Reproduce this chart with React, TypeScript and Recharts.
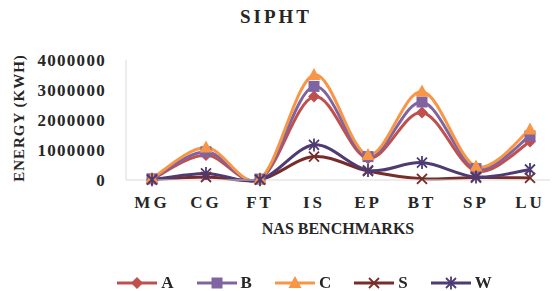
import React from 'react';
import { LineChart, Line, XAxis, YAxis, Legend } from 'recharts';

const benchmarks = ['MG', 'CG', 'FT', 'IS', 'EP', 'BT', 'SP', 'LU'];
const seriesA = [20000, 830000, 20000, 2780000, 720000, 2250000, 300000, 1280000];
const seriesB = [40000, 940000, 30000, 3120000, 780000, 2600000, 380000, 1470000];
const seriesC = [50000, 1080000, 40000, 3500000, 830000, 2950000, 450000, 1680000];
const seriesS = [10000, 100000, 10000, 780000, 300000, 40000, 80000, 70000];
const seriesW = [10000, 220000, 10000, 1170000, 320000, 580000, 100000, 350000];
const yTicks = [0, 1000000, 2000000, 3000000, 4000000];

const data = benchmarks.map((name, i) => ({
  name,
  A: seriesA[i],
  B: seriesB[i],
  C: seriesC[i],
  S: seriesS[i],
  W: seriesW[i],
}));

const font = '"Liberation Serif", "DejaVu Serif", serif';

const series = [
  { key: 'A', color: '#C0504D', shape: 'diamond' },
  { key: 'B', color: '#8064A2', shape: 'square' },
  { key: 'C', color: '#F79646', shape: 'triangle' },
  { key: 'S', color: '#772C2A', shape: 'x' },
  { key: 'W', color: '#4F3B73', shape: 'star' },
];

// Excel-style smoothed line (Catmull-Rom through the points)
const excelCurve = (context: any) => {
  let pts: number[][] = [];
  return {
    areaStart() {},
    areaEnd() {},
    lineStart() {
      pts = [];
    },
    point(x: number, y: number) {
      pts.push([+x, +y]);
    },
    lineEnd() {
      if (!pts.length) return;
      context.moveTo(pts[0][0], pts[0][1]);
      for (let i = 0; i < pts.length - 1; i++) {
        const p0 = pts[i - 1] || pts[i];
        const p1 = pts[i];
        const p2 = pts[i + 1];
        const p3 = pts[i + 2] || p2;
        context.bezierCurveTo(
          p1[0] + (p2[0] - p0[0]) / 6,
          p1[1] + (p2[1] - p0[1]) / 6,
          p2[0] - (p3[0] - p1[0]) / 6,
          p2[1] - (p3[1] - p1[1]) / 6,
          p2[0],
          p2[1]
        );
      }
    },
  };
};

const Marker = ({ cx, cy, shape, color }: { cx: number; cy: number; shape: string; color: string }) => {
  if (cx == null || cy == null) return null;
  switch (shape) {
    case 'diamond':
      return <path d={`M${cx},${cy - 6}L${cx + 6},${cy}L${cx},${cy + 6}L${cx - 6},${cy}Z`} fill={color} />;
    case 'square':
      return <rect x={cx - 5.5} y={cy - 5.5} width={11} height={11} fill={color} />;
    case 'triangle':
      return <path d={`M${cx},${cy - 7}L${cx + 6.5},${cy + 5}L${cx - 6.5},${cy + 5}Z`} fill={color} />;
    case 'x':
      return (
        <path
          d={`M${cx - 5},${cy - 5}L${cx + 5},${cy + 5}M${cx + 5},${cy - 5}L${cx - 5},${cy + 5}`}
          stroke={color}
          strokeWidth={1.8}
        />
      );
    default:
      return (
        <path
          d={`M${cx - 5},${cy - 5}L${cx + 5},${cy + 5}M${cx + 5},${cy - 5}L${cx - 5},${cy + 5}M${cx},${cy - 6.5}L${cx},${cy + 6.5}`}
          stroke={color}
          strokeWidth={1.8}
        />
      );
  }
};

const LegendContent = () => (
  <div style={{ height: 24, display: 'flex', justifyContent: 'center', alignItems: 'center', paddingLeft: 80 }}>
    {series.map((s) => (
      <div key={s.key} style={{ display: 'flex', alignItems: 'center', marginRight: 22 }}>
        <svg width={42} height={16}>
          <line x1={1} y1={8} x2={41} y2={8} stroke={s.color} strokeWidth={3} />
          <Marker cx={21} cy={8} shape={s.shape} color={s.color} />
        </svg>
        <span style={{ fontFamily: font, fontWeight: 'bold', fontSize: 17, color: '#262626', marginLeft: 3 }}>
          {s.key}
        </span>
      </div>
    ))}
  </div>
);

export default function App() {
  return (
    <div style={{ position: 'fixed', left: 0, top: 0, width: 552, height: 291, background: '#fff' }}>
      <div
        style={{
          position: 'absolute',
          top: 6,
          width: 552,
          textAlign: 'center',
          fontFamily: font,
          fontWeight: 'bold',
          fontSize: 19,
          letterSpacing: 3,
          color: '#262626',
        }}
      >
        SIPHT
      </div>
      <LineChart width={552} height={291} data={data} margin={{ top: 60, right: 2, left: 0, bottom: -4 }}>
        <XAxis
          dataKey="name"
          padding={{ left: 26, right: 20 }}
          height={91}
          tickLine={false}
          axisLine={{ stroke: '#D9D9D9' }}
          tickMargin={10}
          tick={{ fontFamily: font, fontWeight: 'bold', fontSize: 17, fill: '#262626', letterSpacing: 3 }}
          label={{
            value: 'NAS BENCHMARKS',
            position: 'insideTop',
            offset: 43,
            style: { fontFamily: font, fontWeight: 'bold', fontSize: 16, fill: '#262626' },
          }}
        />
        <YAxis
          width={126}
          domain={[0, 4000000]}
          ticks={yTicks}
          interval={0}
          tickLine={false}
          axisLine={{ stroke: '#D9D9D9' }}
          tickMargin={14}
          tick={{ fontFamily: font, fontWeight: 'bold', fontSize: 17, fill: '#262626', letterSpacing: 1.3 }}
          label={{
            value: 'ENERGY (KWH)',
            angle: -90,
            position: 'insideLeft',
            offset: 19,
            dy: -2,
            style: { fontFamily: font, fontWeight: 'bold', fontSize: 15, fill: '#262626', letterSpacing: 1, textAnchor: 'middle' },
          }}
        />
        <Legend verticalAlign="bottom" content={<LegendContent />} />
        {series.map((s) => (
          <Line
            key={s.key}
            dataKey={s.key}
            type={excelCurve as any}
            stroke={s.color}
            strokeWidth={3}
            isAnimationActive={false}
            dot={(p: any) => (
              <g key={`${s.key}-${p.index}`}>
                <Marker cx={p.cx} cy={p.cy} shape={s.shape} color={s.color} />
              </g>
            )}
            activeDot={false}
          />
        ))}
      </LineChart>
    </div>
  );
}
